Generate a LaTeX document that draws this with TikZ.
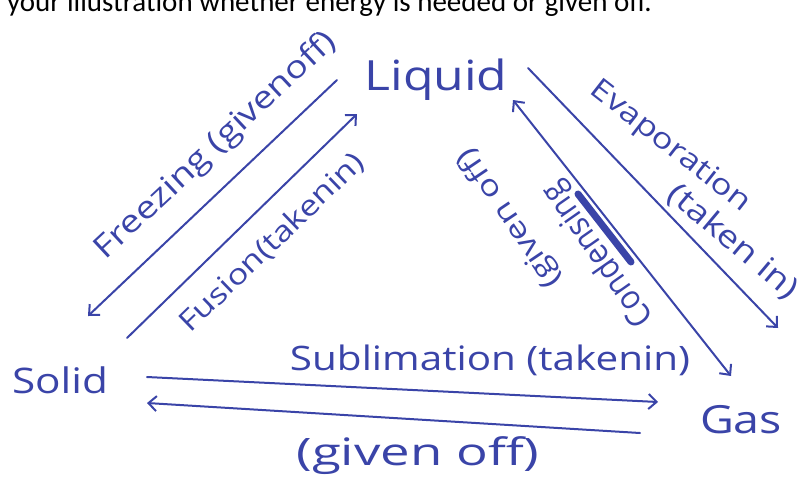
\documentclass[tikz,border=0pt]{standalone}
\usepackage{fontspec}
\setmainfont{Open Sans}
\newfontfamily\printed{Carlito}
\newfontfamily\hand[FakeStretch=1.2]{Open Sans}
\usetikzlibrary{arrows.meta}
\definecolor{ink}{RGB}{58,68,168}
\newcommand\hw[2]{\resizebox{#1pt}{!}{\hand #2}}
\newcommand\hwh[3]{\resizebox*{#1pt}{#2pt}{\hand #3}}
\begin{document}
\begin{tikzpicture}[x=1pt,y=-1pt,
  pen/.style={draw=ink, line width=2pt, line cap=round},
  tip/.style={-{Straight Barb[length=8pt,width=15pt,line width=2pt]}},
  tips/.style={{Straight Barb[length=8pt,width=15pt,line width=2pt]}-{Straight Barb[length=8pt,width=15pt,line width=2pt]}},
  phase/.style={text=ink, font=\fontsize{40}{40}\selectfont, inner sep=0pt},
  lbl/.style={text=ink, font=\fontsize{24}{24}\selectfont, inner sep=0pt}]
\useasboundingbox (0,0) rectangle (810,482);
\clip (0,0) rectangle (810,482);
\node[anchor=base east, font=\printed\fontsize{29}{29}\selectfont, inner sep=0pt] (head) at (652,11) {your illustration whether energy is needed or given off.};
% phases
\node[phase] (liquid) at (436,80) {\hw{143}{Liquid}};
\node[phase] (solid) at (60,380) {\hw{96}{Solid}};
\node[phase] (gas) at (741,420) {\hw{82}{Gas}};
% connector end points
\coordinate (frzA) at (337,80);
\coordinate (frzB) at (88,316);
\coordinate (fusA) at (127,338);
\coordinate (fusB) at (357,114);
\coordinate (evaA) at (528,68);
\coordinate (evaB) at (778,328);
\coordinate (conA) at (731,376);
\coordinate (conB) at (513,100);
\coordinate (subA) at (147,377);
\coordinate (subB) at (658,402);
\coordinate (depA) at (640,433);
\coordinate (depB) at (147,403);
\coordinate (scrA) at (578,194);
\coordinate (scrB) at (631,262);
% connectors
\draw[pen,tip] (frzA) -- (frzB);
\draw[pen,tip] (fusA) -- (fusB);
\draw[pen,tip] (evaA) -- (evaB);
\draw[pen,tips] (conA) -- (conB);
\draw[pen,tip] (subA) -- (subB);
\draw[pen,tip] (depA) -- (depB);
\draw[draw=ink, line width=7pt, line cap=round] (scrA) -- (scrB);
% labels
\node[lbl, rotate=43] (frz) at (216,146) {\hw{318}{Freezing (givenoff)}};
\node[lbl, rotate=44] (fus) at (272,243) {\hw{244}{Fusion(takenin)}};
\node[lbl, rotate=-38] (eva) at (670,147) {\hw{195}{Evaporation}};
\node[lbl, rotate=-40] (evt) at (733,242) {\hw{160}{(taken in)}};
\node[lbl, rotate=125] (con) at (599,254) {\hwh{168}{34}{Condensing}};
\node[lbl, rotate=124] (cgo) at (510,218) {\hw{162}{(given off)}};
\node[lbl] (sub) at (490,360) {\hw{400}{Sublimation (takenin)}};
\node[lbl] (dep) at (418,456) {\hwh{243}{38}{(given off)}};
\end{tikzpicture}
\end{document}
